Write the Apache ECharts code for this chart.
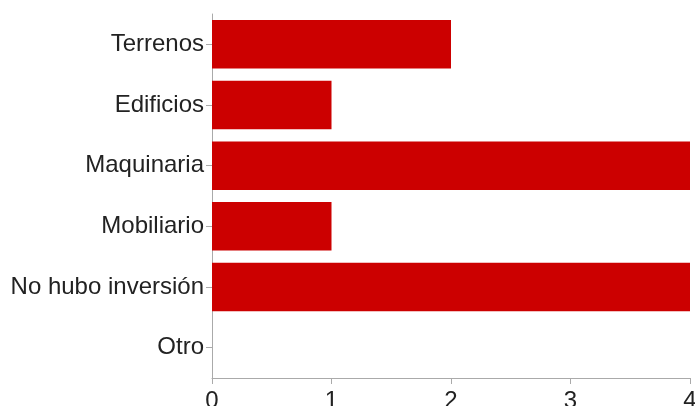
<!DOCTYPE html>
<html><head><meta charset="utf-8">
<script src="https://cdn.jsdelivr.net/npm/echarts@6/dist/echarts.min.js"></script>
<style>html,body{margin:0;padding:0;background:#fff}#c{width:695px;height:406px}</style>
</head><body><div id="c"></div>
<script>
const categories = ["Terrenos","Edificios","Maquinaria","Mobiliario","No hubo inversión","Otro"];
const values = [2,1,4,1,4,0];
const xTicks = [0,1,2,3,4];
const chart = echarts.init(document.getElementById('c'), null, {renderer:'canvas'});
chart.setOption({
  animation:false,
  grid:{left:212,right:5,top:14,bottom:28,containLabel:false,outerBoundsMode:'none'},
  xAxis:{type:'value',min:xTicks[0],max:xTicks[xTicks.length-1],interval:1,
    axisLine:{show:true,lineStyle:{color:'#aaaaaa',width:1}},
    axisTick:{show:true,length:6,lineStyle:{color:'#aaaaaa'}},
    splitLine:{show:false},
    axisLabel:{color:'#222',fontSize:24,fontFamily:'Liberation Sans, Arial, sans-serif',margin:11}},
  yAxis:{type:'category',data:categories,inverse:true,
    axisLine:{show:true,lineStyle:{color:'#aaaaaa',width:1}},
    axisTick:{show:true,length:6,alignWithLabel:true,lineStyle:{color:'#aaaaaa'}},
    axisLabel:{color:'#222',fontSize:24,fontFamily:'Liberation Sans, Arial, sans-serif',margin:8,padding:[7,0,0,0]}},
  series:[{type:'bar',data:values,barCategoryGap:'20%',
    itemStyle:{color:'#cc0000'}}]
});
</script></body></html>
